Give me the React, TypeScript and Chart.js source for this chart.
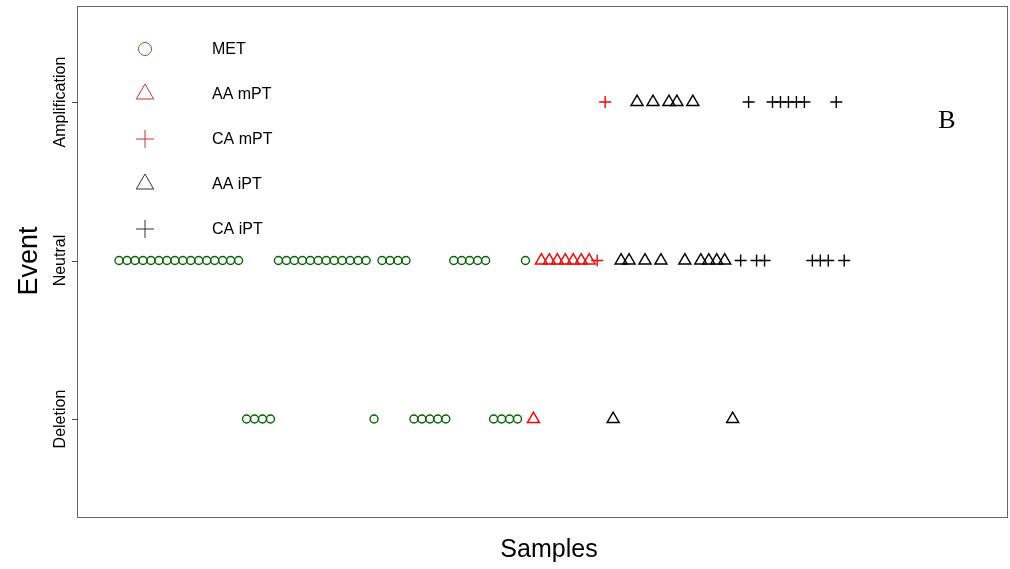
import React, { useEffect, useRef } from "react";
import { Chart, registerables } from "chart.js";

Chart.register(...registerables);

// Event levels: 1 = Deletion, 2 = Neutral, 3 = Amplification
const yTickValues = [1, 2, 3];
const yTickLabels = ["Deletion", "Neutral", "Amplification"];

// Events per sample, in sample order, per group
const metEvents = [
  2, 2, 2, 2, 2, 2, 2, 2, 2, 2, 2, 2, 2, 2, 2, 2,
  1, 1, 1, 1,
  2, 2, 2, 2, 2, 2, 2, 2, 2, 2, 2, 2,
  1,
  2, 2, 2, 2,
  1, 1, 1, 1, 1,
  2, 2, 2, 2, 2,
  1, 1, 1, 1,
  2,
];
const aaMptEvents = [1, 2, 2, 2, 2, 2, 2, 2];
const caMptEvents = [2, 3];
const aaIptEvents = [1, 2, 2, 3, 2, 3, 2, 3, 3, 2, 3, 2, 2, 2, 2, 1];
const caIptEvents = [2, 3, 2, 2, 3, 3, 3, 3, 3, 2, 2, 2, 3, 2];

const groupNames = ["MET", "AA mPT", "CA mPT", "AA iPT", "CA iPT"];
const groupEvents = [metEvents, aaMptEvents, caMptEvents, aaIptEvents, caIptEvents];
const groupColors = ["#006400", "#ff0000", "#ff0000", "#000000", "#000000"];
const legendColors = ["#2e8b2e", "#cc3333", "#cc3333", "#333333", "#333333"];
const groupStyles = ["circle", "triangle", "cross", "triangle", "cross"];
const groupRadius = [4, 7, 6, 7, 6];
const legendRadius = [6.5, 10, 9, 10, 9];

function buildDatasets() {
  let idx = 1;
  return groupEvents.map((events, g) => {
    const data = events.map((e) => ({ x: idx++, y: e }));
    return {
      label: groupNames[g],
      data,
      pointStyle: groupStyles[g],
      pointRadius: groupRadius[g],
      pointHoverRadius: groupRadius[g],
      pointBorderColor: groupColors[g],
      pointBackgroundColor: "rgba(0,0,0,0)",
      pointBorderWidth: 1.4,
      borderColor: groupColors[g],
      backgroundColor: "rgba(0,0,0,0)",
      showLine: false,
    };
  });
}

const decorPlugin = {
  id: "decor",
  afterDraw(chart: any) {
    const ctx = chart.ctx;
    const a = chart.chartArea;
    const ys = chart.scales.y;
    ctx.save();
    // frame
    ctx.strokeStyle = "#666";
    ctx.lineWidth = 1;
    ctx.strokeRect(Math.round(a.left) - 0.5, Math.round(a.top) + 0.5, a.right - a.left, a.bottom - a.top);
    // y ticks
    ctx.fillStyle = "#000";
    ctx.font = "16px 'Liberation Sans', Arial, sans-serif";
    ctx.textAlign = "center";
    ctx.textBaseline = "middle";
    yTickValues.forEach((v, i) => {
      const py = ys.getPixelForValue(v);
      ctx.beginPath();
      ctx.strokeStyle = "#444";
      ctx.moveTo(a.left - 6, Math.round(py) + 0.5);
      ctx.lineTo(a.left, Math.round(py) + 0.5);
      ctx.stroke();
      ctx.save();
      ctx.translate(61, py);
      ctx.rotate(-Math.PI / 2);
      ctx.fillText(yTickLabels[i], 0, 0);
      ctx.restore();
    });
    // axis titles
    ctx.font = "27px 'Liberation Sans', Arial, sans-serif";
    ctx.save();
    ctx.translate(30, 261);
    ctx.rotate(-Math.PI / 2);
    ctx.fillText("Event", 0, 0);
    ctx.restore();
    ctx.font = "25px 'Liberation Sans', Arial, sans-serif";
    ctx.fillText("Samples", 549, 550);
    // panel letter
    ctx.font = "26px 'Liberation Serif', 'Times New Roman', serif";
    ctx.fillText("B", 947, 121);
    // legend
    const ly = [49, 94, 139, 184, 229];
    ctx.textAlign = "left";
    ctx.font = "16px 'Liberation Sans', Arial, sans-serif";
    groupNames.forEach((name, i) => {
      const cx = 145;
      const cy = ly[i];
      const r = legendRadius[i];
      ctx.strokeStyle = legendColors[i];
      ctx.lineWidth = 1;
      ctx.beginPath();
      if (groupStyles[i] === "circle") {
        ctx.arc(cx, cy, r, 0, Math.PI * 2);
      } else if (groupStyles[i] === "triangle") {
        ctx.moveTo(cx, cy - r);
        ctx.lineTo(cx + r * Math.sin((2 * Math.PI) / 3), cy - r * Math.cos((2 * Math.PI) / 3));
        ctx.lineTo(cx + r * Math.sin((4 * Math.PI) / 3), cy - r * Math.cos((4 * Math.PI) / 3));
        ctx.closePath();
      } else {
        ctx.moveTo(cx - r, cy);
        ctx.lineTo(cx + r, cy);
        ctx.moveTo(cx, cy - r);
        ctx.lineTo(cx, cy + r);
      }
      ctx.stroke();
      ctx.fillStyle = "#000";
      ctx.fillText(name, 212, cy + 1);
    });
    ctx.restore();
  },
};

export default function App() {
  const ref = useRef<HTMLCanvasElement | null>(null);
  useEffect(() => {
    if (!ref.current) return;
    const chart = new Chart(ref.current, {
      type: "scatter",
      data: { datasets: buildDatasets() as any },
      options: {
        animation: false,
        responsive: false,
        devicePixelRatio: 1,
        layout: { autoPadding: false, padding: { left: 0, top: 6, right: 2, bottom: 52 } },
        plugins: { legend: { display: false }, tooltip: { enabled: false } },
        scales: {
          x: {
            type: "linear",
            min: -4.15,
            max: 112.55,
            display: false,
          },
          y: {
            type: "linear",
            min: 0.382,
            max: 3.606,
            grid: { display: false },
            border: { display: false },
            ticks: { display: false },
            afterFit: (s: any) => {
              s.width = 78;
            },
          },
        },
      },
      plugins: [decorPlugin],
    });
    return () => chart.destroy();
  }, []);
  return (
    <div style={{ position: "absolute", left: 0, top: 0, width: 1010, height: 569, background: "#fff" }}>
      <canvas ref={ref} width={1010} height={569} />
    </div>
  );
}
